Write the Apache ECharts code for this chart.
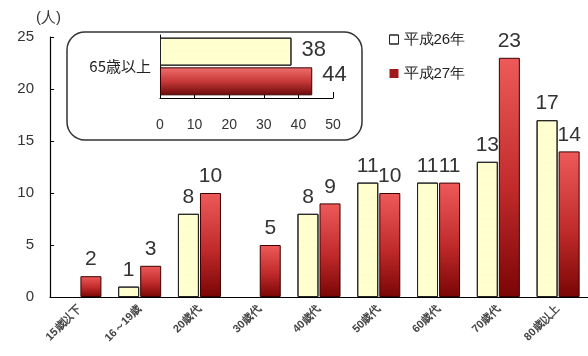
<!DOCTYPE html>
<html><head><meta charset="utf-8">
<script src="https://cdn.jsdelivr.net/npm/echarts@6/dist/echarts.min.js"></script>
<style>html,body{margin:0;padding:0;background:#fff}#c{width:588px;height:356px}</style>
</head><body><div id="c"></div>
<script>
const categories = ['15歳以下','16～19歳','20歳代','30歳代','40歳代','50歳代','60歳代','70歳代','80歳以上'];
const h26 = [0,1,8,0,8,11,11,13,17];
const h27 = [2,3,10,5,9,10,11,23,14];
const yTicks = [0,5,10,15,20,25];
const insetCategories = ['65歳以上'];
const insetH26 = [38];
const insetH27 = [44];
const insetTicks = [0,10,20,30,40,50];

const chart = echarts.init(document.getElementById('c'));
const yellow = '#FFFFD0';
const redV = new echarts.graphic.LinearGradient(0,0,0,1,[{offset:0,color:'#EE5A5A'},{offset:0.55,color:'#C02A2A'},{offset:1,color:'#7A0505'}]);
const redH = new echarts.graphic.LinearGradient(0,0,0,1,[{offset:0,color:'#F07070'},{offset:0.5,color:'#C83838'},{offset:1,color:'#6A0A0A'}]);
const font = "'Liberation Sans', Arial, sans-serif";
const lbl = {show:true, position:'top', distance:6, fontSize:21, color:'#333', fontFamily:font,
  formatter: p => p.value ? String(p.value) : ''};
const decal = {symbol:'circle', symbolSize:0.35, color:'rgba(190,190,140,0.35)', dashArrayX:[1,0], dashArrayY:[4,3], rotation:0};
const hideZero = (arr) => arr.map(v => v === 0 ? {value:0, itemStyle:{borderWidth:0, color:'transparent'}} : v);

chart.setOption({
  animation:false,
  textStyle:{fontFamily:font},
  graphic:[
    {type:'rect', z:0, shape:{x:67,y:32,width:295,height:108,r:18}, style:{fill:'none',stroke:'#333',lineWidth:1.5}},
    {type:'text', left:36, top:10, style:{text:'(人)', fontSize:15, fill:'#333', fontFamily:font}}
  ],
  legend:{
    orient:'vertical', left:384, top:27, itemGap:19, itemWidth:9, itemHeight:9,
    textStyle:{fontSize:15, color:'#222', fontFamily:font},
    data:[{name:'平成26年', icon:'rect', itemStyle:{color:'#fff', borderColor:'#222', borderWidth:1}},
          {name:'平成27年', icon:'rect', itemStyle:{color:'#A01818', borderWidth:0}}]
  },
  grid:[
    {left:50, right:-7, top:37, bottom:59},
    {left:160, right:255, top:35, bottom:258}
  ],
  xAxis:[
    {type:'category', gridIndex:0, data:categories,
     axisLine:{lineStyle:{color:'#000', width:1.2}},
     axisTick:{inside:true, length:4, lineStyle:{color:'#000'}},
     axisLabel:{rotate:45, fontSize:11, color:'#444', margin:10, interval:0, fontWeight:'bold'}},
    {type:'value', gridIndex:1, min:0, max:50, interval:10,
     splitLine:{show:false},
     axisLine:{show:true, lineStyle:{color:'#000'}},
     axisTick:{show:true, inside:true, length:6, lineStyle:{color:'#000'}},
     axisLabel:{fontSize:14, color:'#333', margin:20}}
  ],
  yAxis:[
    {type:'value', gridIndex:0, min:0, max:25, interval:5,
     splitLine:{show:false},
     axisLine:{show:true, lineStyle:{color:'#000', width:1.2}},
     axisTick:{show:true, inside:true, length:4, lineStyle:{color:'#000'}},
     axisLabel:{fontSize:15, color:'#333', margin:16}},
    {type:'category', gridIndex:1, data:insetCategories, inverse:true,
     axisLine:{show:true, lineStyle:{color:'#000'}},
     axisTick:{show:false},
     axisLabel:{fontSize:15, color:'#222', margin:9, fontFamily:"'Noto Sans CJK JP', sans-serif"}}
  ],
  series:[
    {name:'平成26年', type:'bar', xAxisIndex:0, yAxisIndex:0, data:hideZero(h26), barGap:'5%', barCategoryGap:'28%',
     itemStyle:{color:yellow, borderColor:'#222', borderWidth:1, decal:decal}, label:lbl},
    {name:'平成27年', type:'bar', xAxisIndex:0, yAxisIndex:0, data:h27,
     itemStyle:{color:redV, borderColor:'#3a0000', borderWidth:1}, label:lbl},
    {name:'平成26年', type:'bar', xAxisIndex:1, yAxisIndex:1, data:insetH26, barWidth:28, barGap:'6%',
     itemStyle:{color:yellow, borderColor:'#222', borderWidth:1, decal:decal},
     label:{show:true, position:'right', distance:10, offset:[0,-2], fontSize:22, color:'#333', fontFamily:font}},
    {name:'平成27年', type:'bar', xAxisIndex:1, yAxisIndex:1, data:insetH27, barWidth:28,
     itemStyle:{color:redH, borderColor:'#3a0000', borderWidth:1},
     label:{show:true, position:'right', distance:10, offset:[0,-6], fontSize:22, color:'#333', fontFamily:font}}
  ]
});
</script></body></html>
